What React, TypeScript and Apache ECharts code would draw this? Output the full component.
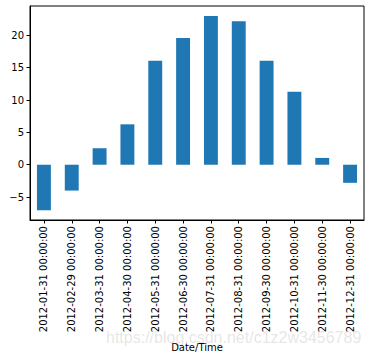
import React, { useEffect, useRef } from "react";
import * as echarts from "echarts";

const categories = [
  "2012-01-31 00:00:00",
  "2012-02-29 00:00:00",
  "2012-03-31 00:00:00",
  "2012-04-30 00:00:00",
  "2012-05-31 00:00:00",
  "2012-06-30 00:00:00",
  "2012-07-31 00:00:00",
  "2012-08-31 00:00:00",
  "2012-09-30 00:00:00",
  "2012-10-31 00:00:00",
  "2012-11-30 00:00:00",
  "2012-12-31 00:00:00",
];
const values = [-7.05, -4.0, 2.55, 6.25, 16.1, 19.6, 23.0, 22.2, 16.1, 11.3, 1.05, -2.8];
const yTicks = [-5, 0, 5, 10, 15, 20];
const xLabel = "Date/Time";
const watermark = "https://blog.csdn.net/c1z2w3456789";

const FONT = "DejaVu Sans";

export default function App() {
  const ref = useRef<HTMLDivElement>(null);
  useEffect(() => {
    if (!ref.current) return;
    const chart = echarts.init(ref.current, undefined, { renderer: "svg" });
    chart.setOption({
      animation: false,
      backgroundColor: "#ffffff",
      grid: {
        left: 30,
        top: 6,
        width: 334,
        height: 218,
        show: true,
        borderColor: "#000000",
        borderWidth: 1,
        containLabel: false,
      },
      xAxis: {
        type: "category",
        data: categories,
        boundaryGap: true,
        name: xLabel,
        nameLocation: "middle",
        nameGap: 122,
        nameTextStyle: { fontFamily: FONT, fontSize: 10, color: "#000" },
        axisLine: { show: true, onZero: false, lineStyle: { color: "#000", width: 1 } },
        axisTick: { show: true, alignWithLabel: true, length: 3.5, lineStyle: { color: "#000" } },
        axisLabel: {
          rotate: 90,
          interval: 0,
          margin: 6,
          fontFamily: FONT,
          fontSize: 10,
          color: "#000",
        },
        splitLine: { show: false },
      },
      yAxis: {
        type: "value",
        min: -8.55,
        max: 24.55,
        axisLine: { show: true, lineStyle: { color: "#000", width: 1 } },
        axisTick: {
          show: true,
          length: 3.5,
          lineStyle: { color: "#000" },
          customValues: yTicks,
        },
        axisLabel: {
          margin: 6,
          fontFamily: FONT,
          fontSize: 10,
          color: "#000",
          customValues: yTicks,
          formatter: (v: number) => (v < 0 ? "\u2212" + Math.abs(v) : String(v)),
        },
        splitLine: { show: false },
      },
      series: [
        {
          type: "bar",
          data: values,
          barWidth: "50%",
          itemStyle: { color: "#1f77b4" },
        },
      ],
      graphic: [
        {
          type: "text",
          left: 106,
          top: 329,
          z: -1,
          style: {
            text: watermark,
            fontFamily: "Liberation Sans",
            fontSize: 16,
            fill: "rgba(200,200,200,0.45)",
          },
        },
      ],
    });
    return () => chart.dispose();
  }, []);
  return (
    <div
      ref={ref}
      style={{ position: "absolute", left: 0, top: 0, width: 370, height: 357 }}
    />
  );
}
